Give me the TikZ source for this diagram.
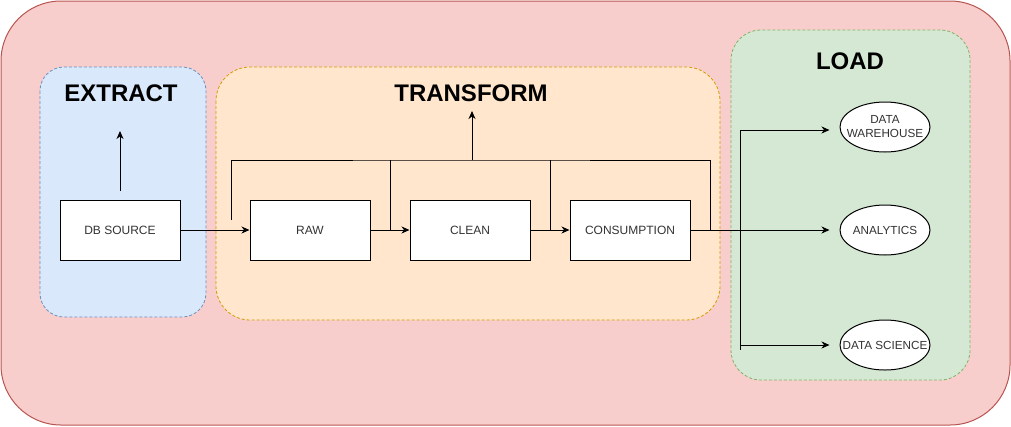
\documentclass[tikz,border=0pt]{standalone}
\usepackage{fontspec}
\setmainfont{Liberation Sans}
\usetikzlibrary{arrows.meta,shapes.geometric,calc}
\definecolor{outerfill}{HTML}{F8CECC}
\definecolor{outerline}{HTML}{B85450}
\definecolor{exfill}{HTML}{DAE8FC}
\definecolor{exline}{HTML}{6C8EBF}
\definecolor{trfill}{HTML}{FFE6CC}
\definecolor{trline}{HTML}{D79B00}
\definecolor{ldfill}{HTML}{D5E8D4}
\definecolor{ldline}{HTML}{82B366}
\begin{document}
\begin{tikzpicture}[x=1pt,y=-1pt,line width=1pt,font=\fontsize{12}{14}\selectfont,
 box/.style={draw,fill=white,minimum width=120pt,minimum height=60pt,inner sep=0pt,text=black!80},
 oval/.style={draw,fill=white,ellipse,minimum width=90pt,minimum height=50pt,inner sep=0pt},
 ovaltext/.style={align=center,inner sep=0pt,text=black!80,font=\fontsize{11.7}{14}\selectfont},
 title/.style={font=\fontsize{24}{28}\selectfont\bfseries},
 arr/.style={-{Stealth[length=8pt,width=7pt,inset=2.5pt]}},
 grp/.style={line width=0.8pt,dash pattern=on 3pt off 2pt}]
\useasboundingbox (0,0) rectangle (1011,426);
\draw[outerline,fill=outerfill,rounded corners=60pt] (1,1) rectangle (1010,425);
\draw[exline,fill=exfill,grp,rounded corners=24pt] (40,67) rectangle (206,317);
\draw[trline,fill=trfill,grp,rounded corners=34pt] (216,67) rectangle (720,320);
\draw[ldline,fill=ldfill,grp,rounded corners=30pt] (731,30) rectangle (970,380);
\node[title] (ext) at (121,93) {EXTRACT};
\node[title] (trn) at (471,93) {TRANSFORM};
\node[title] (lod) at (850,61) {LOAD};
\node[box] (db) at (120,230) {DB SOURCE};
\node[box] (raw) at (310,230) {RAW};
\node[box] (cln) at (470,230) {CLEAN};
\node[box] (con) at (630,230) {CONSUMPTION};
\node[oval] (dw) at (885,127) {};
\node[oval] (ana) at (885,230) {};
\node[oval] (dsc) at (885,345) {};
\node[ovaltext] (dwt) at (dw) {DATA\\WAREHOUSE};
\node[ovaltext] (anat) at (ana) {ANALYTICS};
\node[ovaltext] (dsct) at (dsc) {DATA SCIENCE};
\coordinate (exlo) at (120,191);
\coordinate (exup) at (120,131);
\coordinate (busl) at (231,220);
\coordinate (bustop) at (472,160);
\coordinate (busr) at (710,230);
\coordinate (trup) at (472,111);
\coordinate (m1) at ($(raw.east)!.5!(cln.west)$);
\coordinate (m2) at ($(cln.east)!.5!(con.west)$);
\coordinate (lt) at (740,130);
\coordinate (lb) at (740,350);
\draw[arr] (exlo) -- (exup);
\draw[arr] (db.east) -- (raw.west);
\draw[arr] (raw.east) -- (cln.west);
\draw[arr] (cln.east) -- (con.west);
\draw (busl) |- (bustop) -| (busr);
\draw (m1) -- (m1 |- bustop);
\draw (m2) -- (m2 |- bustop);
\draw[arr] (bustop) -- (trup);
\draw[arr,shorten >=10pt] (con.east) -- (ana.west);
\draw (lt) -- (lb);
\draw[arr,shorten >=10pt] (lt) -- (lt -| dw.west);
\draw[arr,shorten >=10pt] (lb |- dsc) -- (dsc.west);
\end{tikzpicture}
\end{document}
